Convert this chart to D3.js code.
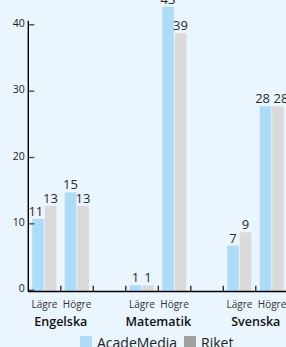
<!DOCTYPE html>
<html lang="sv">
<head>
  <meta charset="UTF-8">
  <title>Betyg jämfört med riket</title>
  <script src="https://d3js.org/d3.v7.min.js"></script>
  <style>
    body { margin: 0; background: #eaf5fd; }
    svg { display: block; font-family: "Open Sans", sans-serif; }
  </style>
</head>
<body>
<svg id="chart"></svg>
<script>
  // data
  const categories = ["Engelska", "Matematik", "Svenska"];
  const levels = ["Lägre", "Högre"];
  const seriesNames = ["AcadeMedia", "Riket"];
  const acadeMedia = [11, 15, 1, 43, 7, 28];   // Engelska L/H, Matematik L/H, Svenska L/H
  const riket = [13, 13, 1, 39, 9, 28];
  const yTicks = [0, 10, 20, 30, 40];

  const colors = { AcadeMedia: "#acdcf8", Riket: "#dadada" };
  const legendColors = { AcadeMedia: "#acdcf8", Riket: "#a0a0a0" };

  const width = 286, height = 347;
  const svg = d3.select("#chart").attr("width", width).attr("height", height);

  svg.append("rect").attr("width", width).attr("height", height).attr("fill", "#eaf5fd");

  // slots: each level gets a slot, an empty slot between subjects
  const slots = [];
  categories.forEach((c, i) => {
    levels.forEach((l, j) => slots.push({ key: c + "|" + l, cat: c, level: l, idx: i * 2 + j }));
    if (i < categories.length - 1) slots.push({ key: "gap" + i, gap: true });
  });

  const x = d3.scaleBand().domain(slots.map(d => d.key)).range([28.3, 288.3]);
  const x1 = d3.scaleBand().domain(seriesNames)
    .range([x.bandwidth() / 2 - 12.3, x.bandwidth() / 2 + 12.7]);
  const y = d3.scaleLinear().domain([0, 40]).range([292, 26.6]);
  const barW = x1.bandwidth() - 0.9;

  const bars = [];
  slots.filter(d => !d.gap).forEach(s => {
    bars.push({ slot: s.key, series: "AcadeMedia", value: acadeMedia[s.idx] });
    bars.push({ slot: s.key, series: "Riket", value: riket[s.idx] });
  });
  bars.forEach(d => { d.x = x(d.slot) + x1(d.series); });

  // bars
  svg.append("g").selectAll("rect").data(bars).join("rect")
    .attr("x", d => d.x)
    .attr("y", d => y(d.value))
    .attr("width", barW)
    .attr("height", d => y(0) - y(d.value))
    .attr("fill", d => colors[d.series]);

  // value labels
  const labels = svg.append("g").selectAll("text").data(bars).join("text")
    .attr("x", d => d.x + barW / 2)
    .attr("y", d => y(d.value) - 3)
    .attr("text-anchor", "middle")
    .style("font-size", "13px")
    .attr("fill", "#2a2a2a")
    .text(d => d3.format("d")(d.value));

  // nudge labels that collide with the neighbour bar or label
  labels.each(function(d) { d.w = this.getComputedTextLength(); d.cx = d.x + barW / 2; });
  d3.groups(bars, d => d.slot).forEach(([, pair]) => {
    const [a, r] = pair;
    if (y(a.value) - 3 > y(r.value) && a.cx + a.w / 2 > r.x - 1.5) {
      a.cx = r.x - 1.5 - a.w / 2;
    }
    if (Math.abs(y(a.value) - y(r.value)) < 12) {
      const over = a.w / 2 + r.w / 2 + 3.5 - (r.cx - a.cx);
      if (over > 0) { a.cx -= over / 2; r.cx += over / 2; }
    }
  });
  labels.attr("x", d => d.cx);

  // y axis (ticks sit a touch above the bar scale)
  const yAxis = svg.append("g")
    .attr("transform", "translate(28.3,-2.3)")
    .call(d3.axisRight(y).tickValues(yTicks).tickSize(6).tickFormat(d3.format("d")));
  yAxis.select(".domain").remove();
  yAxis.selectAll(".tick line").attr("stroke", "#444").attr("stroke-width", 1.3);
  yAxis.selectAll(".tick text")
    .attr("x", -3.5).attr("dy", "0.2em")
    .attr("text-anchor", "end")
    .style("font-size", "10.5px")
    .style("font-family", "Open Sans, sans-serif")
    .attr("fill", "#222");

  svg.append("line")
    .attr("x1", 28.3).attr("x2", 28.3).attr("y1", 20.7).attr("y2", 292)
    .attr("stroke", "#000").attr("stroke-width", 1.4);

  // x axis
  svg.append("line")
    .attr("x1", 28.3).attr("x2", width).attr("y1", 291.5).attr("y2", 291.5)
    .attr("stroke", "#000").attr("stroke-width", 1.4);

  svg.append("g").selectAll("line").data(slots.slice(1).map(d => x(d.key)).concat([x.range()[1]])).join("line")
    .attr("x1", d => d).attr("x2", d => d)
    .attr("y1", 285.7).attr("y2", 292)
    .attr("stroke", "#222").attr("stroke-width", 1.3);

  // level labels
  svg.append("g").selectAll("text").data(slots.filter(d => !d.gap)).join("text")
    .attr("x", d => x(d.key) + x.bandwidth() / 2)
    .attr("y", 307.5)
    .attr("text-anchor", "middle")
    .style("font-size", "10px")
    .attr("fill", "#333")
    .text(d => d.level);

  // subject labels
  svg.append("g").selectAll("text").data(categories).join("text")
    .attr("x", c => (x(c + "|" + levels[0]) + x(c + "|" + levels[1]) + x.bandwidth()) / 2)
    .attr("y", 326)
    .attr("text-anchor", "middle")
    .style("font-size", "12.5px")
    .style("font-weight", 600)
    .attr("fill", "#111")
    .text(c => c);

  // legend
  const legendX = [80, 184];
  const legend = svg.append("g").selectAll("g").data(seriesNames).join("g")
    .attr("transform", (d, i) => `translate(${legendX[i]},336)`);
  legend.append("rect").attr("width", 12).attr("height", 12).attr("fill", d => legendColors[d]);
  legend.append("text")
    .attr("x", 17).attr("y", 12)
    .style("font-size", "14px")
    .attr("fill", "#222")
    .text(d => d);
</script>
</body>
</html>
